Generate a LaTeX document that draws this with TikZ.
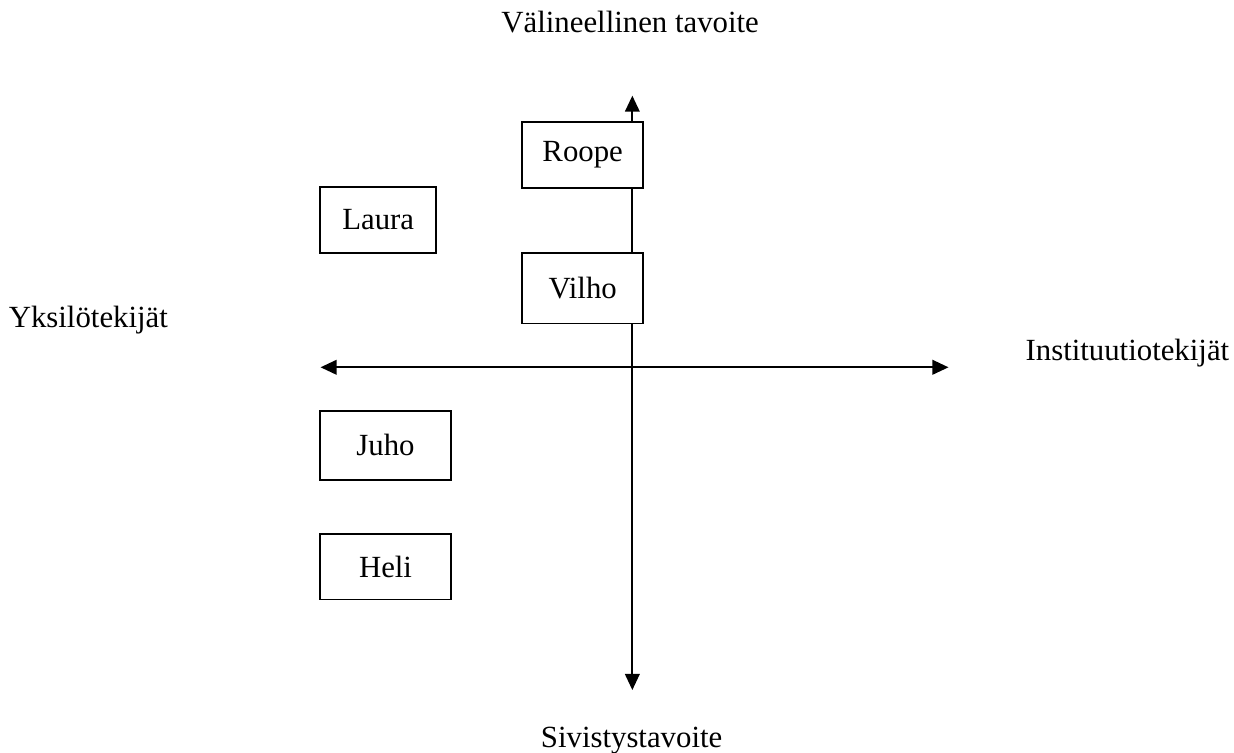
\documentclass[tikz,border=0pt]{standalone}
\usepackage{fontspec}
\setmainfont{Liberation Serif}
\usetikzlibrary{arrows.meta}

\begin{document}
\begin{tikzpicture}[font=\fontsize{12pt}{14pt}\selectfont]
    % Define styles
    \tikzset{
        person/.style={
            draw,
            fill=white,
            line width=0.75pt,
            minimum height=0.9cm,
            align=center
        },
        axis/.style={
            line width=0.75pt,
            {Triangle[length=0.22cm,width=0.2cm]}-{Triangle[length=0.22cm,width=0.2cm]}
        },
        pole/.style={
            inner sep=0pt
        }
    }

    % Frame
    \useasboundingbox (0,0) rectangle (16.9,-10.3);

    % Axis ends
    \coordinate (up) at (8.66,-1.31);
    \coordinate (down) at (8.66,-9.45);
    \coordinate (left) at (4.39,-5.03);
    \coordinate (right) at (12.99,-5.03);

    % Axes
    \draw[axis] (down) -- (up);
    \draw[axis] (left) -- (right);

    % Pole labels
    \node[pole] (instr) at (8.63,-0.30) {Välineellinen tavoite};
    \node[pole] (civil) at (8.65,-10.14) {Sivistystavoite};
    \node[pole] (indiv) at (1.21,-4.38) {Yksilötekijät};
    \node[pole] (inst) at (15.44,-4.84) {Instituutiotekijät};

    % Persons
    \node[person, minimum width=1.66cm] (roope) at (7.98,-2.12) {Roope};
    \node[person, minimum width=1.66cm, minimum height=0.96cm] (vilho) at (7.98,-3.95) {Vilho};
    \node[person, minimum width=1.59cm] (laura) at (5.18,-3.01) {Laura};
    \node[person, minimum width=1.79cm, minimum height=0.95cm] (juho) at (5.28,-6.10) {Juho};
    \node[person, minimum width=1.79cm] (heli) at (5.28,-7.76) {Heli};

\end{tikzpicture}
\end{document}
